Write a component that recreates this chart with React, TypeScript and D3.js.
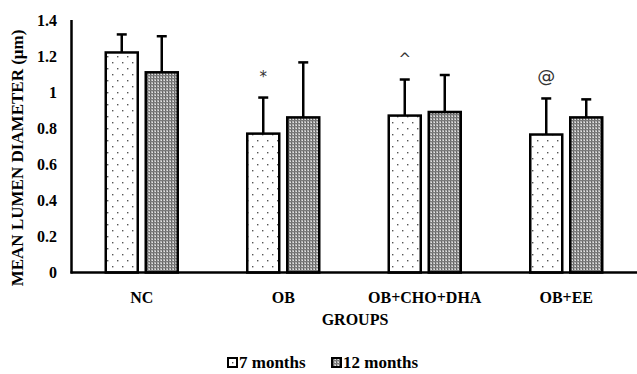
import React from "react";
import * as d3 from "d3";

const groups = ["NC", "OB", "OB+CHO+DHA", "OB+EE"];
const seriesNames = ["7 months", "12 months"];
const means7 = [1.22, 0.77, 0.87, 0.765];
const errs7 = [0.1, 0.2, 0.2, 0.2];
const means12 = [1.11, 0.86, 0.89, 0.86];
const errs12 = [0.2, 0.305, 0.205, 0.1];
const marks7 = ["", "*", "^", "@"];
const yTicks = [0, 0.2, 0.4, 0.6, 0.8, 1, 1.2, 1.4];

const W = 637;
const H = 374;
const font = "'Liberation Serif', 'Times New Roman', serif";

export default function App() {
  const x0 = d3.scaleBand().domain(groups).range([71, 637]);
  const x1 = d3
    .scaleBand()
    .domain(seriesNames)
    .range([-36, 36])
    .paddingInner(0.2);
  const y = d3.scaleLinear().domain([0, 1.4]).range([272.5, 20]);

  const series = [
    { name: seriesNames[0], means: means7, errs: errs7, fill: "url(#dots)" },
    { name: seriesNames[1], means: means12, errs: errs12, fill: "url(#grey)" },
  ];

  return (
    <svg
      width={W}
      height={H}
      style={{ position: "absolute", left: 0, top: 0, background: "#fff" }}
      fontFamily={font}
      fontWeight="bold"
    >
      <defs>
        <pattern id="dots" width="10" height="12" patternUnits="userSpaceOnUse">
          <rect width="10" height="12" fill="#fff" />
          <rect x="2" y="2" width="1.4" height="1.4" fill="#555" />
          <rect x="7" y="8" width="1.4" height="1.4" fill="#555" />
        </pattern>
        <pattern id="grey" width="3" height="3" patternUnits="userSpaceOnUse">
          <rect width="3" height="3" fill="#b0b0b0" />
          <rect width="1" height="3" fill="#666" />
          <rect width="3" height="1" fill="#7a7a7a" />
          <rect x="2" y="2" width="1" height="1" fill="#e4e4e4" />
        </pattern>
      </defs>

      {/* y axis */}
      <line x1={71.5} x2={71.5} y1={20} y2={y(0) + 1} stroke="#000" strokeWidth={2.5} />
      {yTicks.map((t) => (
        <text
          key={t}
          x={57}
          y={y(t)}
          dy="0.35em"
          textAnchor="end"
          fontSize={16}
        >
          {t}
        </text>
      ))}

      {/* bars */}
      {series.map((s, si) =>
        groups.map((g, gi) => {
          const cx = (x0(g) as number) + x0.bandwidth() / 2;
          const bx = cx + (x1(s.name) as number);
          const bw = x1.bandwidth();
          const top = y(s.means[gi]);
          const errTop = y(s.means[gi] + s.errs[gi]);
          const mx = bx + bw / 2;
          return (
            <g key={`${si}-${gi}`}>
              <line x1={mx} x2={mx} y1={errTop} y2={top} stroke="#000" strokeWidth={2.5} />
              <line x1={mx - 5} x2={mx + 5} y1={errTop} y2={errTop} stroke="#000" strokeWidth={2.5} />
              <rect
                x={bx}
                y={top}
                width={bw}
                height={y(0) - top}
                fill={s.fill}
                stroke="#000"
                strokeWidth={2.5}
              />
            </g>
          );
        })
      )}

      {/* significance marks */}
      {groups.map((g, gi) => {
        const cx = (x0(g) as number) + x0.bandwidth() / 2;
        const mx = cx + (x1(seriesNames[0]) as number) + x1.bandwidth() / 2;
        const ty = y(means7[gi] + errs7[gi]) - 16;
        return marks7[gi] ? (
          <text
            key={g}
            x={mx}
            y={ty}
            textAnchor="middle"
            fontSize={marks7[gi] === "@" ? 18 : 15}
            fontWeight="normal"
            fill="#333"
            fontFamily="'DejaVu Sans', sans-serif"
          >
            {marks7[gi]}
          </text>
        ) : null;
      })}

      {/* baseline */}
      <line x1={70.5} x2={637} y1={y(0)} y2={y(0)} stroke="#000" strokeWidth={2.5} />

      {/* category labels */}
      {groups.map((g) => (
        <text
          key={g}
          x={(x0(g) as number) + x0.bandwidth() / 2}
          y={303}
          textAnchor="middle"
          fontSize={16}
        >
          {g}
        </text>
      ))}

      <text x={355} y={325} textAnchor="middle" fontSize={16}>
        GROUPS
      </text>

      <text
        transform={`translate(23,158) rotate(-90)`}
        textAnchor="middle"
        fontSize={17}
      >
        MEAN LUMEN DIAMETER (μm)
      </text>

      {/* legend */}
      {series.map((s, i) => {
        const lx = i === 0 ? 228 : 332;
        return (
          <g key={s.name}>
            <rect x={lx} y={358} width={9} height={9} fill={s.fill} stroke="#000" strokeWidth={2} />
            <text x={lx + 11} y={368} fontSize={17}>
              {s.name}
            </text>
          </g>
        );
      })}
    </svg>
  );
}
